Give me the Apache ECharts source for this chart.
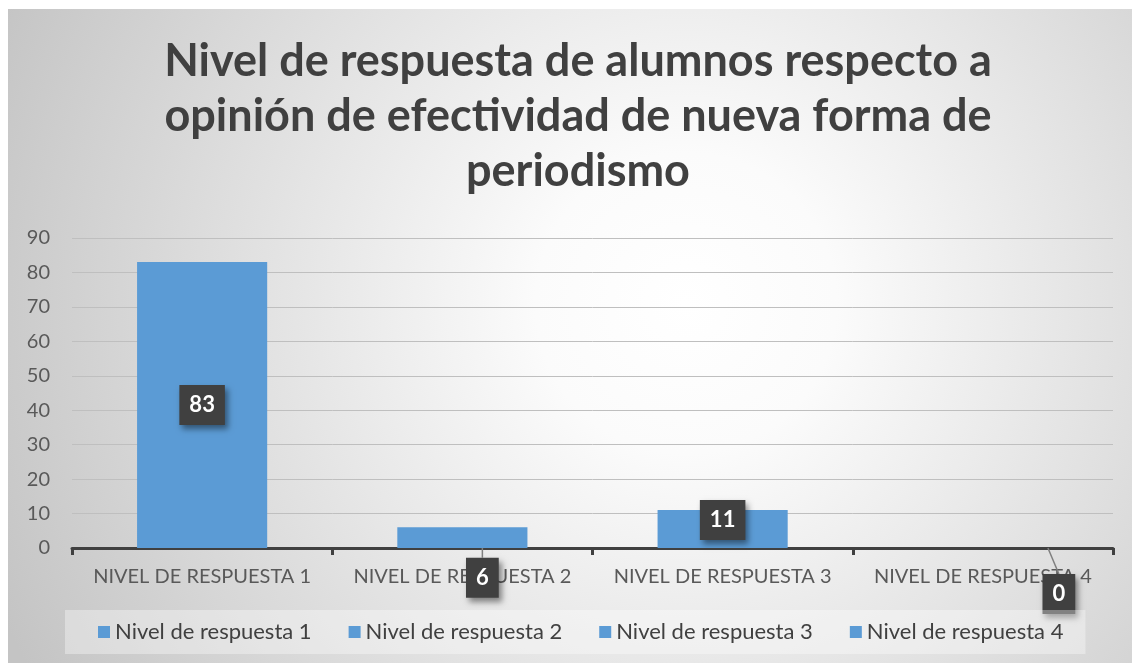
<!DOCTYPE html>
<html>
<head>
<meta charset="utf-8">
<script src="https://cdn.jsdelivr.net/npm/echarts@6/dist/echarts.min.js"></script>
<style>
html,body{margin:0;padding:0;background:#fff;}
#chart{width:1132px;height:665px;}
</style>
</head>
<body>
<div id="chart"></div>
<script>
const titleLines = ['Nivel de respuesta de alumnos respecto a', 'opinión de efectividad de nueva forma de', 'periodismo'];
const categories = ['NIVEL DE RESPUESTA 1', 'NIVEL DE RESPUESTA 2', 'NIVEL DE RESPUESTA 3', 'NIVEL DE RESPUESTA 4'];
const seriesNames = ['Nivel de respuesta 1', 'Nivel de respuesta 2', 'Nivel de respuesta 3', 'Nivel de respuesta 4'];
const values = [83, 6, 11, 0];
const yMin = 0, yMax = 90, yInterval = 10;

const labelBase = {
  show: true,
  color: '#ffffff',
  fontFamily: 'Lato',
  fontWeight: 'bold',
  fontSize: 22,
  lineHeight: 24,
  backgroundColor: '#404040',
  padding: [8, 10],
  shadowColor: 'rgba(0,0,0,0.45)',
  shadowBlur: 6,
  shadowOffsetX: 3,
  shadowOffsetY: 4
};
// per-series label placement
const labelPlacement = [
  { label: { position: 'inside' } },
  { label: { position: 'inside' }, labelLayout: { dx: 20, dy: 40 }, labelLine: { show: true, lineStyle: { color: '#7f7f7f', width: 1.5 } } },
  { label: { position: 'inside', offset: [0, -9] } },
  { label: { position: 'inside' }, labelLayout: { dx: 76, dy: 46 }, labelLine: { show: true, lineStyle: { color: '#7f7f7f', width: 1.5 } } }
];

const series = seriesNames.map((name, i) => {
  const s = {
    name: name,
    type: 'bar',
    barWidth: '50%',
    barGap: '-100%',
    itemStyle: { color: '#5B9BD5' },
    data: categories.map((c, j) => (j === i ? values[j] : '-')),
    label: Object.assign({}, labelBase, labelPlacement[i].label)
  };
  if (labelPlacement[i].labelLayout) s.labelLayout = labelPlacement[i].labelLayout;
  if (labelPlacement[i].labelLine) s.labelLine = labelPlacement[i].labelLine;
  return s;
});

const chart = echarts.init(document.getElementById('chart'));
chart.setOption({
  animation: false,
  graphic: [{
    type: 'rect',
    z: -10,
    silent: true,
    shape: { x: 8, y: 9, width: 1130, height: 654 },
    style: {
      fill: {
        type: 'radial', x: 0.6, y: 0.45, r: 1.15,
        colorStops: [
          { offset: 0, color: '#ffffff' },
          { offset: 0.2, color: '#fbfbfb' },
          { offset: 1, color: '#c4c4c4' }
        ]
      }
    }
  }],
  title: {
    text: titleLines.join('\n'),
    left: 573,
    top: 29,
    textAlign: 'center',
    textStyle: {
      fontFamily: 'Lato',
      fontWeight: 'bold',
      fontSize: 45,
      lineHeight: 55,
      color: '#404040'
    }
  },
  legend: {
    data: seriesNames,
    left: 65,
    top: 610,
    orient: 'horizontal',
    backgroundColor: 'rgba(255,255,255,0.35)',
    padding: [11, 22, 11, 33],
    itemWidth: 12,
    itemHeight: 12,
    itemGap: 37,
    icon: 'rect',
    textStyle: { fontFamily: 'Lato', fontSize: 22, color: '#404040' }
  },
  grid: { left: 72, right: 19, top: 238, bottom: 117, containLabel: false },
  xAxis: {
    type: 'category',
    data: categories,
    axisLine: { lineStyle: { color: '#404040', width: 3 } },
    axisTick: { show: true, length: 7, lineStyle: { color: '#404040', width: 3 } },
    axisLabel: { interval: 0, fontFamily: 'Lato', fontSize: 20, color: '#595959', margin: 19 }
  },
  yAxis: {
    type: 'value',
    min: yMin, max: yMax, interval: yInterval,
    axisLine: { show: false },
    axisTick: { show: false },
    splitLine: { lineStyle: { color: '#bfbfbf', width: 1 } },
    axisLabel: { fontFamily: 'Lato', fontSize: 20, color: '#595959', margin: 22 }
  },
  series: series
});
</script>
</body>
</html>
